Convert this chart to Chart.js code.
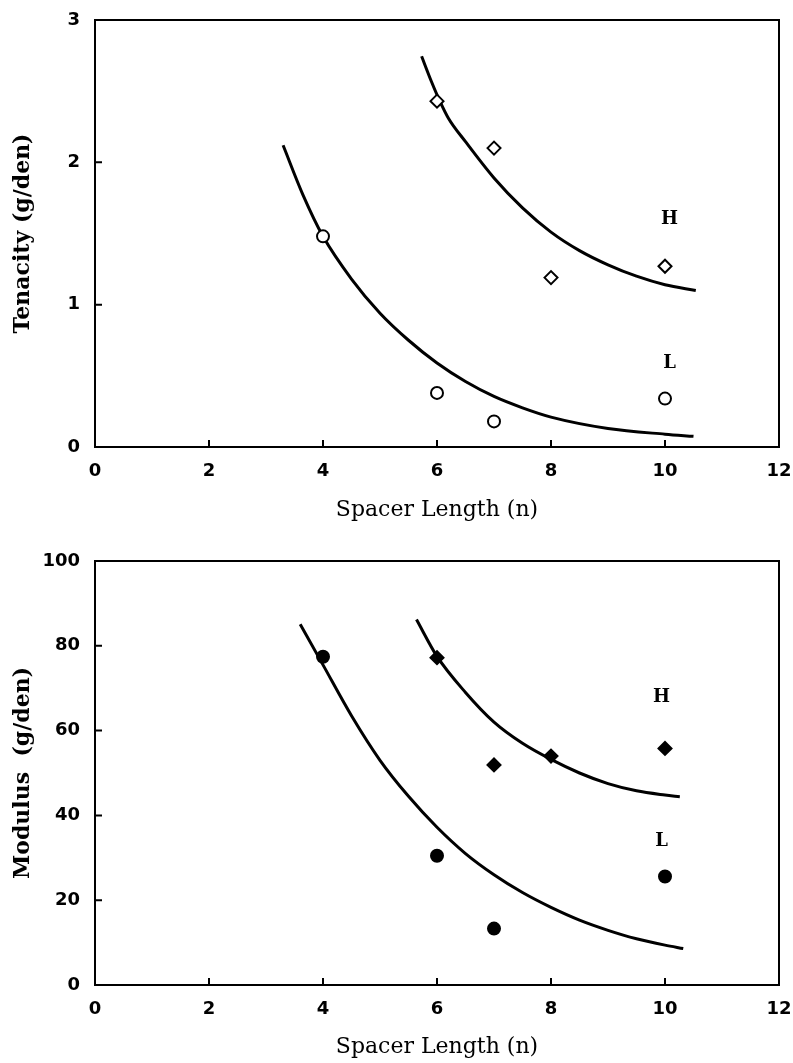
<!DOCTYPE html>
<html>
<head>
<meta charset="utf-8">
<script src="https://cdn.jsdelivr.net/npm/chart.js@4.4.0/dist/chart.umd.min.js"></script>
<style>
  body { margin: 0; background: #fff; }
  canvas { position: absolute; left: 0; }
</style>
</head>
<body>
<canvas id="tenacityChart" width="793" height="540" style="top:0"></canvas>
<canvas id="modulusChart" width="793" height="533" style="top:530px"></canvas>
<script>
// spacer length n of the measured samples
const spacerH = [6, 7, 8, 10];
const spacerL = [4, 6, 7, 10];

// tenacity (g/den)
const tenacityH = [2.43, 2.10, 1.19, 1.27];
const tenacityL = [1.48, 0.38, 0.18, 0.34];

// modulus (g/den)
const modulusH = [77.2, 51.9, 54.0, 55.8];
const modulusL = [77.4, 30.5, 13.3, 25.6];

// fitted curves
const tenFitHx = [5.73, 5.9, 6.05, 6.2, 6.5, 7, 7.5, 8, 8.5, 9, 9.5, 10, 10.54];
const tenFitHy = [2.745, 2.57, 2.43, 2.31, 2.145, 1.89, 1.68, 1.51, 1.38, 1.28, 1.20, 1.14, 1.10];
const tenFitLx = [3.3, 3.65, 4, 4.5, 5, 5.5, 6, 6.5, 7, 7.5, 8, 9, 10, 10.5];
const tenFitLy = [2.12, 1.77, 1.48, 1.18, 0.94, 0.75, 0.59, 0.46, 0.355, 0.275, 0.21, 0.13, 0.09, 0.075];
const modFitHx = [5.64, 6, 6.5, 7, 7.5, 8, 8.5, 9, 9.5, 10, 10.26];
const modFitHy = [86.2, 77.5, 69, 62, 57, 53.2, 50, 47.5, 45.8, 44.8, 44.4];
const modFitLx = [3.6, 4, 4.5, 5, 5.5, 6, 6.5, 7, 7.5, 8, 8.5, 9, 9.5, 10, 10.32];
const modFitLy = [85.1, 75.5, 63.5, 53, 44.5, 37.2, 31, 26, 21.8, 18.3, 15.3, 12.9, 10.9, 9.4, 8.6];

// axis ticks
const spacerTicks = [0, 2, 4, 6, 8, 10, 12];
const tenacityTicks = [0, 1, 2, 3];
const modulusTicks = [0, 20, 40, 60, 80, 100];

// curve tags
const tagNames = ['H', 'L'];
const tenTagX = [10.08, 10.08];
const tenTagY = [1.6, 0.59];
const modTagX = [9.94, 9.94];
const modTagY = [67.8, 33.9];

const pts = (xs, ys) => xs.map((x, i) => ({ x: x, y: ys[i] }));

const framePlugin = {
    id: 'frame',
    afterDatasetsDraw(chart, args, opts) {
        const { ctx, chartArea: a } = chart;
        const x = chart.scales.x, y = chart.scales.y;
        ctx.save();
        ctx.strokeStyle = '#000';
        ctx.lineWidth = 2;
        ctx.strokeRect(a.left, a.top, a.right - a.left, a.bottom - a.top);
        ctx.beginPath();
        x.ticks.forEach(t => {
            const px = x.getPixelForValue(t.value);
            ctx.moveTo(px, a.bottom);
            ctx.lineTo(px, a.bottom - 7);
        });
        y.ticks.forEach(t => {
            const py = y.getPixelForValue(t.value);
            ctx.moveTo(a.left, py);
            ctx.lineTo(a.left + 7, py);
        });
        ctx.stroke();
        ctx.fillStyle = '#000';
        ctx.font = 'bold 18px "DejaVu Serif"';
        ctx.textAlign = 'center';
        ctx.textBaseline = 'middle';
        tagNames.forEach((name, i) => {
            ctx.fillText(name, x.getPixelForValue(opts.tagX[i]), y.getPixelForValue(opts.tagY[i]));
        });
        ctx.restore();
    }
};

function makeChart(id, cfg) {
    const ctx = document.getElementById(id).getContext('2d');
    const canvasH = ctx.canvas.height;
    return new Chart(ctx, {
        type: 'scatter',
        data: {
            datasets: [{
                label: 'H',
                data: pts(spacerH, cfg.valuesH),
                pointStyle: 'rectRot',
                pointRadius: 6.5,
                pointBorderWidth: 2,
                borderColor: '#000',
                backgroundColor: cfg.filled ? '#000' : '#fff'
            },
            {
                label: 'L',
                data: pts(spacerL, cfg.valuesL),
                pointStyle: 'circle',
                pointRadius: 6,
                pointBorderWidth: 2,
                borderColor: '#000',
                backgroundColor: cfg.filled ? '#000' : '#fff'
            },
            {
                label: 'H fit',
                data: cfg.fitH,
                showLine: true,
                borderColor: '#000',
                borderWidth: 3,
                pointRadius: 0,
                cubicInterpolationMode: 'monotone'
            },
            {
                label: 'L fit',
                data: cfg.fitL,
                showLine: true,
                borderColor: '#000',
                borderWidth: 3,
                pointRadius: 0,
                cubicInterpolationMode: 'monotone'
            }]
        },
        options: {
            responsive: false,
            animation: false,
            layout: { padding: { top: cfg.plotTop, right: 14, left: 0, bottom: 0 } },
            plugins: {
                legend: { display: false },
                tooltip: { enabled: false },
                frame: { tagX: cfg.tagX, tagY: cfg.tagY }
            },
            scales: {
                x: {
                    type: 'linear',
                    min: spacerTicks[0],
                    max: spacerTicks[spacerTicks.length - 1],
                    afterBuildTicks: s => { s.ticks = spacerTicks.map(v => ({ value: v })); },
                    afterFit: s => {
                        s.height = canvasH - cfg.plotBottom;
                        s.paddingLeft = 0;
                        s.paddingRight = 0;
                    },
                    grid: { display: false, drawTicks: false },
                    border: { display: false },
                    ticks: {
                        color: '#000',
                        padding: 14,
                        maxRotation: 0,
                        font: { family: 'DejaVu Sans', size: 18, weight: 'bold' }
                    },
                    title: {
                        display: true,
                        text: 'Spacer Length (n)',
                        color: '#000',
                        padding: { top: 0, bottom: cfg.xTitlePad },
                        font: { family: 'DejaVu Serif', size: 22 }
                    }
                },
                y: {
                    type: 'linear',
                    min: cfg.yTicks[0],
                    max: cfg.yTicks[cfg.yTicks.length - 1],
                    afterBuildTicks: s => { s.ticks = cfg.yTicks.map(v => ({ value: v })); },
                    afterFit: s => {
                        s.width = 95;
                        s.paddingTop = 0;
                        s.paddingBottom = 0;
                    },
                    grid: { display: false, drawTicks: false },
                    border: { display: false },
                    ticks: {
                        color: '#000',
                        padding: 15,
                        font: { family: 'DejaVu Sans', size: 18, weight: 'bold' }
                    },
                    title: {
                        display: true,
                        text: cfg.yTitle,
                        color: '#000',
                        padding: { top: 10, bottom: 0 },
                        font: { family: 'DejaVu Serif', size: 22, weight: 'bold' }
                    }
                }
            }
        },
        plugins: [framePlugin]
    });
}

makeChart('tenacityChart', {
    valuesH: tenacityH,
    valuesL: tenacityL,
    fitH: pts(tenFitHx, tenFitHy),
    fitL: pts(tenFitLx, tenFitLy),
    yTicks: tenacityTicks,
    yTitle: 'Tenacity (g/den)',
    tagX: tenTagX,
    tagY: tenTagY,
    filled: false,
    plotTop: 20,
    plotBottom: 447,
    xTitlePad: 17
});

makeChart('modulusChart', {
    valuesH: modulusH,
    valuesL: modulusL,
    fitH: pts(modFitHx, modFitHy),
    fitL: pts(modFitLx, modFitLy),
    yTicks: modulusTicks,
    yTitle: 'Modulus  (g/den)',
    tagX: modTagX,
    tagY: modTagY,
    filled: true,
    plotTop: 31,
    plotBottom: 455,
    xTitlePad: 3
});
</script>
</body>
</html>
